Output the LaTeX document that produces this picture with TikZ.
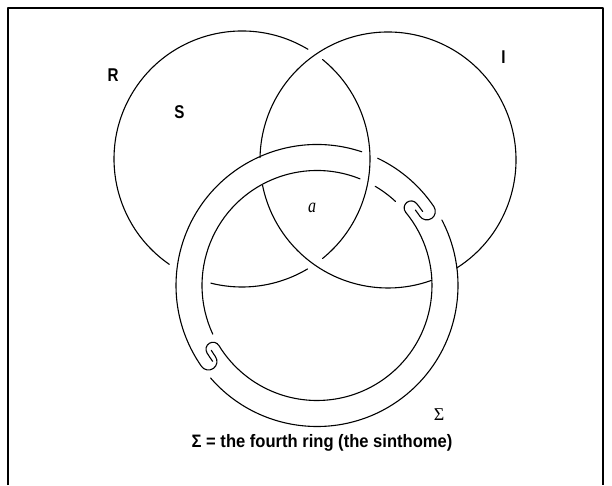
\documentclass[tikz,border=0pt]{standalone}
\usepackage{fontspec}
\setmainfont{Liberation Serif}
\newfontfamily\condsans[FakeStretch=0.82]{Liberation Sans}
\newfontfamily\capsans[FakeStretch=0.92]{Liberation Sans}
\newfontfamily\condserif[FakeStretch=0.80]{Liberation Serif}
\usetikzlibrary{calc}

\tikzset{
  sint/.style={
    x=1pt, y=1pt,
    line join=round,
    line cap=round,
  },
  strand/.style={line width=1.1pt, draw=black},
  frameline/.style={line width=2.4pt, draw=black, line cap=butt},
  ringlab/.style={font=\condsans\bfseries\fontsize{18.5}{20}\selectfont, inner sep=0pt},
  caption/.style={font=\capsans\bfseries\fontsize{18}{20}\selectfont, inner sep=0pt},
}

\begin{document}
\begin{tikzpicture}[sint]
  \useasboundingbox (0,0) rectangle (612,485);
  \fill[white] (0,0) rectangle (612,485);

  % frame
  \draw[frameline] (8,0) -- (8,477) -- (603,477) -- (603,0);

  \coordinate (cR) at (242,326);
  \coordinate (cI) at (388,325);
  \coordinate (cT) at (317,199.5);
  \def\rr{128}
  \def\ro{141}
  \def\ri{115}

  % R : under I twice, over the band on the right, under it on the left
  \draw[strand] (cR) ++(-51:\rr) arc[start angle=-51, end angle=51, radius=\rr];
  \draw[strand] (cR) ++(59:\rr) arc[start angle=59, end angle=235.4, radius=\rr];
  \draw[strand] (cR) ++(255.9:\rr) arc[start angle=255.9, end angle=300.8, radius=\rr];

  % I : under the band on both sides
  \draw[strand] (cI) ++(-57.5:\rr) arc[start angle=-57.5, end angle=178.9, radius=\rr];
  \draw[strand] (cI) ++(191.4:\rr) arc[start angle=191.4, end angle=290, radius=\rr];

  % band, upper left half (outer line hooked at both ends)
  \draw[strand] (cT) ++(64.5:\ro) arc[start angle=64.5, end angle=34, radius=\ro]
    arc[start angle=34, end angle=-146, radius=8.5]
    arc[start angle=34, end angle=37.5, radius=124];
  \draw[strand] (cT) ++(71.5:\ro) arc[start angle=71.5, end angle=215, radius=\ro]
    arc[start angle=215, end angle=395, radius=8.5]
    arc[start angle=215, end angle=211.5, radius=124];
  \draw[strand] (cT) ++(47:\ri) arc[start angle=47, end angle=59.6, radius=\ri];
  \draw[strand] (cT) ++(68:\ri) arc[start angle=68, end angle=205, radius=\ri];

  % band, lower right half (inner line hooked at both ends)
  \draw[strand] (cT) ++(39.5:\ri) arc[start angle=39.5, end angle=-148.5, radius=\ri]
    arc[start angle=31.5, end angle=211.5, radius=7]
    arc[start angle=211.5, end angle=216, radius=129];
  \draw[strand] (cT) ++(39.5:\ri) arc[start angle=219.5, end angle=39.5, radius=7]
    arc[start angle=39.5, end angle=35, radius=129];
  \draw[strand] (cT) ++(221:\ro) arc[start angle=221, end angle=387.7, radius=\ro];

  % labels
  \node[ringlab] (labR) at (113,410) {R};
  \node[ringlab] (labS) at (179.5,373) {S};
  \node[ringlab] (labI) at (503.5,428) {I};
  \node[font=\condserif\itshape\fontsize{20}{22}\selectfont, inner sep=0pt] (laba) at (312,277) {a};
  \node[font=\fontsize{18}{20}\selectfont, inner sep=0pt] (labSig) at (439,70) {Σ};
  \node[caption] (cap) at (322,42) {Σ = the fourth ring (the sinthome)};
\end{tikzpicture}
\end{document}
